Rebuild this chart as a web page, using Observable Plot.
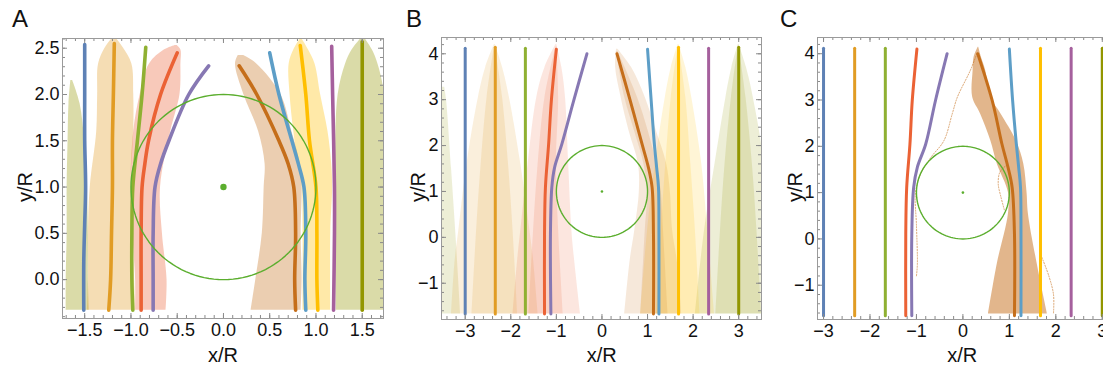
<!DOCTYPE html>
<html><head><meta charset="utf-8">
<script src="https://cdn.jsdelivr.net/npm/d3@7"></script>
<script src="https://cdn.jsdelivr.net/npm/@observablehq/plot@0.6"></script>
<style>
html,body{margin:0;padding:0;background:#fff;overflow:hidden;}
#wrap{position:relative;width:1103px;height:369px;overflow:hidden;font-family:"Liberation Sans",Arial,sans-serif;}
.panel{position:absolute;top:0;}
.lbl{position:absolute;font-size:20px;line-height:1;color:#111;white-space:nowrap;}
.ylbl{transform:translate(-50%,-50%) rotate(-90deg);}
.letter{position:absolute;font-size:24px;line-height:1;color:#111;}
</style></head><body><div id="wrap"></div>
<script>
// ---------- series ----------
const seriesNames = ["blue","orange","green","red","purple","brown","lightblue","yellow","magenta","olive"];
const seriesColors = ["#5E81B5","#E19C24","#8FB032","#EB6235","#8778B3","#C56E1A","#5D9EC7","#FFBF00","#A5609D","#929600"];
const obstacleCenter = [0, 1];
const obstacleRadius = 1;

// ---------- Panel A : mean trajectories [x, y] ----------
const A_lines = [
  ["blue",      [[-1.51,-0.33],[-1.51,0.2],[-1.5,0.6],[-1.49,1.0],[-1.5,1.5],[-1.5,2.0],[-1.5,2.54]]],
  ["orange",    [[-1.24,-0.33],[-1.22,0],[-1.21,0.5],[-1.2,1.0],[-1.2,1.5],[-1.19,2.0],[-1.18,2.55]]],
  ["green",     [[-0.98,-0.33],[-0.99,0],[-0.99,0.5],[-0.98,1.0],[-0.93,1.5],[-0.88,2.0],[-0.84,2.51]]],
  ["red",       [[-0.89,-0.33],[-0.89,0],[-0.89,0.5],[-0.88,1.0],[-0.85,1.25],[-0.81,1.5],[-0.68,2.0],[-0.5,2.45]]],
  ["purple",    [[-0.76,-0.33],[-0.76,0],[-0.76,0.5],[-0.74,1.0],[-0.68,1.25],[-0.59,1.5],[-0.375,2.0],[-0.16,2.31]]],
  ["brown",     [[0.78,-0.33],[0.77,0],[0.78,0.5],[0.76,1.0],[0.7,1.25],[0.6,1.5],[0.36,2.0],[0.17,2.31]]],
  ["lightblue", [[0.89,-0.33],[0.88,0],[0.89,0.5],[0.87,1.0],[0.81,1.25],[0.74,1.5],[0.6,2.0],[0.5,2.45]]],
  ["yellow",    [[1.02,-0.33],[1.01,0],[1.01,0.5],[1.0,1.0],[0.93,1.5],[0.89,2.0],[0.83,2.53]]],
  ["magenta",   [[1.19,-0.33],[1.2,0.5],[1.2,1.0],[1.18,2.0],[1.17,2.52]]],
  ["olive",     [[1.5,-0.33],[1.5,1.0],[1.5,2.0],[1.5,2.57]]]
];
// ---------- Panel A : trajectory clouds [y, xLeft, xRight] ----------
const A_clouds = [
  ["olive",  [[-0.33,-1.70,-1.45],[0,-1.70,-1.46],[0.5,-1.69,-1.46],[1.0,-1.69,-1.47],[1.5,-1.68,-1.5],[1.9,-1.67,-1.55],[2.15,-1.65,-1.63]]],
  ["orange", [[-0.33,-1.47,-0.95],[0,-1.46,-0.96],[0.5,-1.46,-0.98],[1.0,-1.44,-1.0],[1.6,-1.37,-0.97],[2.0,-1.36,-0.97],[2.33,-1.35,-0.99],[2.5,-1.28,-1.08],[2.62,-1.19,-1.17]]],
  ["red",    [[-0.33,-0.95,-0.62],[0,-0.95,-0.61],[0.5,-0.98,-0.66],[1.0,-1.0,-0.68],[1.6,-0.97,-0.57],[2.0,-0.9,-0.47],[2.33,-0.8,-0.46],[2.48,-0.64,-0.46],[2.53,-0.52,-0.5]]],
  ["brown",  [[-0.33,0.3,0.84],[0,0.35,0.85],[0.5,0.42,0.84],[1.0,0.44,0.85],[1.25,0.45,0.83],[1.6,0.38,0.74],[2.0,0.22,0.62],[2.33,0.13,0.36],[2.42,0.16,0.22]]],
  ["yellow", [[-0.33,0.86,1.16],[0.5,0.86,1.16],[1.0,0.85,1.18],[1.25,0.81,1.17],[1.6,0.76,1.13],[2.0,0.72,1.05],[2.33,0.71,0.99],[2.48,0.76,0.92],[2.6,0.83,0.85]]],
  ["olive",  [[-0.33,1.22,1.74],[0.5,1.21,1.74],[1.25,1.21,1.74],[2.0,1.24,1.74],[2.33,1.32,1.67],[2.48,1.39,1.61],[2.62,1.5,1.52]]]
];

// ---------- Panel B ----------
const B_lines = [
  ["blue",      [[-3,-1.67],[-3,4.12]]],
  ["orange",    [[-2.34,-1.67],[-2.34,4.14]]],
  ["green",     [[-1.68,-1.67],[-1.68,4.12]]],
  ["red",       [[-1.26,-1.67],[-1.26,0.07],[-1.24,1.09],[-1.17,2.03],[-1.11,2.98],[-1.0,4.1]]],
  ["purple",    [[-1.12,-1.67],[-1.13,0.07],[-1.1,1.09],[-1.04,1.52],[-0.88,2.03],[-0.62,2.98],[-0.33,4.0]]],
  ["brown",     [[1.13,-1.67],[1.13,0.07],[1.1,1.09],[1.02,1.52],[0.88,2.03],[0.62,2.98],[0.33,4.0]]],
  ["lightblue", [[1.25,-1.67],[1.25,0.07],[1.24,1.09],[1.2,1.52],[1.15,2.03],[1.08,2.98],[1.0,4.1]]],
  ["yellow",    [[1.68,-1.67],[1.68,4.14]]],
  ["magenta",   [[2.34,-1.67],[2.34,4.12]]],
  ["olive",     [[3.0,-1.67],[3.0,4.14]]]
];
const B_clouds = [
  ["olive",  [[-1.67,-3.55,-3.1],[0,-3.55,-3.2],[1.5,-3.55,-3.3],[3.0,-3.55,-3.41],[3.27,-3.55,-3.45]]],
  ["orange", [[-1.67,-3.3,-1.4],[-0.5,-3.22,-1.5],[0.15,-3.14,-1.58],[1.6,-2.96,-1.78],[3.05,-2.71,-2.03],[3.7,-2.55,-2.18],[4.2,-2.36,-2.34]]],
  ["red",    [[-1.67,-1.95,-0.47],[-0.5,-1.85,-0.6],[0.15,-1.78,-0.66],[1.6,-1.62,-0.73],[3.05,-1.43,-0.8],[3.7,-1.25,-0.88],[4.2,-1.01,-0.99]]],
  ["brown",  [[-1.67,0.5,1.75],[-0.5,0.62,1.65],[0.15,0.72,1.55],[1.0,0.82,1.5],[1.6,0.8,1.42],[2.3,0.6,1.2],[3.05,0.42,0.95],[3.7,0.3,0.65],[4.1,0.32,0.35]]],
  ["yellow", [[-1.67,0.85,2.47],[0.15,1.0,2.32],[1.6,1.17,2.19],[3.05,1.39,1.97],[3.7,1.52,1.84],[4.2,1.67,1.69]]],
  ["olive",  [[-1.67,2.05,3.55],[0.15,2.25,3.55],[1.6,2.48,3.55],[3.05,2.72,3.32],[3.7,2.85,3.17],[4.2,2.99,3.01]]]
];
// denser cores of the B clouds [y, xLeft, xRight]
const B_cores = [
  ["orange", [[-1.67,-2.85,-1.85],[0.15,-2.75,-1.95],[1.6,-2.65,-2.05],[3.05,-2.52,-2.18],[4.15,-2.36,-2.34]]],
  ["red",    [[-1.67,-1.6,-0.85],[0.15,-1.5,-0.95],[1.6,-1.4,-1.0],[3.05,-1.25,-0.95],[4.15,-1.01,-0.99]]],
  ["brown",  [[-1.67,0.85,1.45],[0.15,0.95,1.35],[1.0,1.0,1.3],[1.6,0.92,1.2],[2.3,0.72,1.02],[3.05,0.5,0.78],[4.05,0.32,0.35]]],
  ["yellow", [[-1.67,1.2,2.15],[0.15,1.3,2.05],[1.6,1.4,1.95],[3.05,1.52,1.84],[4.15,1.67,1.69]]],
  ["olive",  [[-1.67,2.5,3.5],[0.15,2.6,3.4],[1.6,2.7,3.3],[3.05,2.84,3.16],[4.15,2.99,3.01]]]
];

// ---------- Panel C ----------
const C_lines = [
  ["blue",      [[-3,-1.66],[-3,4.12]]],
  ["orange",    [[-2.33,-1.66],[-2.33,4.12]]],
  ["green",     [[-1.67,-1.66],[-1.67,4.12]]],
  ["red",       [[-1.23,-1.66],[-1.23,0.1],[-1.21,1.11],[-1.14,2.05],[-1.09,2.99],[-0.99,4.1]]],
  ["purple",    [[-1.1,-1.66],[-1.1,0.1],[-1.06,1.11],[-0.98,1.55],[-0.8,2.05],[-0.59,2.99],[-0.34,4.0]]],
  ["brown",     [[1.11,-1.66],[1.11,0.1],[1.06,1.11],[0.97,1.55],[0.84,2.05],[0.63,2.99],[0.32,4.0]]],
  ["lightblue", [[1.25,-1.66],[1.25,0.1],[1.24,1.11],[1.2,1.55],[1.15,2.05],[1.07,2.99],[1.0,4.1]]],
  ["yellow",    [[1.67,-1.66],[1.67,4.12]]],
  ["magenta",   [[2.33,-1.66],[2.33,4.12]]],
  ["olive",     [[3.0,-1.66],[3.0,4.12]]]
];
const C_clouds = [
  ["brown", [[-1.62,0.55,1.82],[-0.54,0.74,1.6],[0.54,0.98,1.41],[1.0,0.98,1.38],[1.62,0.74,1.31],[2.12,0.6,1.15],[2.7,0.38,0.82],[3.06,0.21,0.6],[3.64,0.22,0.49],[3.92,0.24,0.4],[4.14,0.33,0.34]]]
];
// sparse outlier trajectories in C [x, y]
const C_outliers = [
  ["brown", [[0.3,4.0],[0.16,3.64],[-0.12,3.06],[-0.23,2.7],[-0.41,2.12],[-0.69,1.76],[-0.91,1.4],[-1.02,1.0],[-1.0,0.3],[-0.98,-0.54],[-1.0,-0.8]]],
  ["brown", [[0.95,1.6],[0.8,1.45],[0.76,1.2],[0.82,0.9],[0.9,0.6]]],
  ["brown", [[1.7,-0.4],[1.85,-0.8],[1.95,-1.2],[1.95,-1.6]]]
];

// ---------- axes ----------
const A_xTicks = [-1.5,-1,-0.5,0,0.5,1,1.5];
const A_yTicks = [0,0.5,1,1.5,2,2.5];
const BC_xTicks = [-3,-2,-1,0,1,2,3];
const BC_yTicks = [-1,0,1,2,3,4];

const colorOf = Object.fromEntries(seriesNames.map((n,i)=>[n, seriesColors[i]]));

function lineRows(lines){
  const rows=[]; lines.forEach(([s,pts],k)=>pts.forEach(([x,y])=>rows.push({id:k,s,x,y,c:colorOf[s]}))); return rows;
}
function cloudRows(clouds){
  const rows=[]; clouds.forEach(([s,pts],k)=>pts.forEach(([y,x1,x2])=>rows.push({id:k,s,y,x1,x2,c:colorOf[s]}))); return rows;
}
function circleRows(){
  return d3.range(0,361,3).map(a=>({x:obstacleCenter[0]+obstacleRadius*Math.cos(a*Math.PI/180), y:obstacleCenter[1]+obstacleRadius*Math.sin(a*Math.PI/180)}));
}

function tickMarks(xd, yd, w, h, xMaj, xMin, yMaj, yMin){
  const ky=(yd[1]-yd[0])/h, kx=(xd[1]-xd[0])/w;
  const M=5, m=3, st={stroke:"#8a8a8a", strokeWidth:1};
  return [
    Plot.ruleX(xMaj,{x:d=>d,y1:yd[0],y2:yd[0]+M*ky,...st}),
    Plot.ruleX(xMin,{x:d=>d,y1:yd[0],y2:yd[0]+m*ky,...st}),
    Plot.ruleX(xMaj,{x:d=>d,y1:yd[1],y2:yd[1]-M*ky,...st}),
    Plot.ruleX(xMin,{x:d=>d,y1:yd[1],y2:yd[1]-m*ky,...st}),
    Plot.ruleY(yMaj,{y:d=>d,x1:xd[0],x2:xd[0]+M*kx,...st}),
    Plot.ruleY(yMin,{y:d=>d,x1:xd[0],x2:xd[0]+m*kx,...st}),
    Plot.ruleY(yMaj,{y:d=>d,x1:xd[1],x2:xd[1]-M*kx,...st}),
    Plot.ruleY(yMin,{y:d=>d,x1:xd[1],x2:xd[1]-m*kx,...st})
  ];
}

function panel(cfg){
  const w = cfg.width - cfg.ml - cfg.mr, h = 369 - cfg.mt - cfg.mb;
  const marks = [];
  cfg.clouds.forEach(cl => {
    marks.push(Plot.areaX(cloudRows(cl.data), {y:"y", x1:"x1", x2:"x2", z:"id", fill:"c", fillOpacity:cl.op, curve:"catmull-rom", clip:true}));
  });
  if (cfg.outliers) marks.push(Plot.line(lineRows(cfg.outliers), {x:"x", y:"y", z:"id", stroke:"c", strokeOpacity:0.6, strokeWidth:1, strokeDasharray:"1.2,1.6", curve:"catmull-rom", clip:true}));
  marks.push(Plot.line(lineRows(cfg.lines), {x:"x", y:"y", z:"id", stroke:"c", strokeWidth:cfg.lw, curve:"catmull-rom", clip:true}));
  marks.push(Plot.line(circleRows(), {x:"x", y:"y", stroke:"#5BAE2E", strokeWidth:1.4, curve:"linear"}));
  marks.push(Plot.dot([obstacleCenter], {x:d=>d[0], y:d=>d[1], r:cfg.dotR, fill:"#5BAE2E"}));
  marks.push(...tickMarks(cfg.xd, cfg.yd, w, h, cfg.xMaj, cfg.xMin, cfg.yMaj, cfg.yMin));
  marks.push(Plot.frame({stroke:"#9a9a9a", strokeWidth:1}));
  marks.push(Plot.axisX(cfg.xMaj, {tickSize:0, tickPadding:5, tickFormat:cfg.fmt, label:null, fill:"#111", fontSize:18}));
  marks.push(Plot.axisY(cfg.yMaj, {tickSize:0, tickPadding:3, tickFormat:cfg.fmt, label:null, fill:"#111", fontSize:18}));
  const svg = Plot.plot({
    width: cfg.width, height: 369,
    marginLeft: cfg.ml, marginRight: cfg.mr, marginTop: cfg.mt, marginBottom: cfg.mb,
    x: {domain: cfg.xd}, y: {domain: cfg.yd},
    color: {type:"identity"},
    style: {fontFamily:'"Liberation Sans", Arial, sans-serif', fontSize:"18px", background:"transparent", overflow:"visible"},
    marks
  });
  svg.classList.add("panel");
  svg.style.left = cfg.left + "px";
  return svg;
}

const f1 = d3.format(".1f"), f0 = d3.format("d");
const wrap = document.getElementById("wrap");

wrap.appendChild(panel({
  left:0, width:400, ml:62, mr:17, mt:38, mb:51,
  xd:[-1.74,1.73], yd:[-0.42,2.605],
  xMaj:A_xTicks, xMin:d3.range(-17,18).map(d=>d/10),
  yMaj:A_yTicks, yMin:d3.range(-4,27).map(d=>d/10),
  fmt:f1, lw:3.6, dotR:3.2,
  lines:A_lines, clouds:[{data:A_clouds, op:0.34}]
}));
wrap.appendChild(panel({
  left:370, width:400, ml:71, mr:9, mt:37, mb:50,
  xd:[-3.52,3.5], yd:[-1.79,4.355],
  xMaj:BC_xTicks, xMin:d3.range(-17,18).map(d=>d/5),
  yMaj:BC_yTicks, yMin:d3.range(-8,22).map(d=>d/5),
  fmt:f0, lw:3, dotR:1.3,
  lines:B_lines, clouds:[{data:B_clouds, op:0.16},{data:B_cores, op:0.16}]
}));
wrap.appendChild(panel({
  left:735, width:400, ml:82, mr:10, mt:37, mb:50,
  xd:[-3.13,3.5], yd:[-1.74,4.35],
  xMaj:BC_xTicks, xMin:d3.range(-15,18).map(d=>d/5),
  yMaj:BC_yTicks, yMin:d3.range(-8,22).map(d=>d/5),
  fmt:f0, lw:3, dotR:1.3,
  lines:C_lines, clouds:[{data:C_clouds, op:0.5}], outliers:C_outliers
}));

// labels
const letters = [["A",12],["B",406],["C",780]];
letters.forEach(([t,x])=>{const d=document.createElement("div"); d.className="letter"; d.textContent=t; d.style.left=x+"px"; d.style.top="7px"; wrap.appendChild(d);});
const xLabelCenters = [223, 601.7, 962.3];
const yLabelCenters = [25, 418, 795];
xLabelCenters.forEach(cx=>{const d=document.createElement("div"); d.className="lbl"; d.textContent="x/R"; d.style.left=cx+"px"; d.style.top="345px"; d.style.transform="translateX(-50%)"; wrap.appendChild(d);});
yLabelCenters.forEach(cx=>{const d=document.createElement("div"); d.className="lbl ylbl"; d.textContent="y/R"; d.style.left=cx+"px"; d.style.top="187px"; wrap.appendChild(d);});
</script></body></html>
